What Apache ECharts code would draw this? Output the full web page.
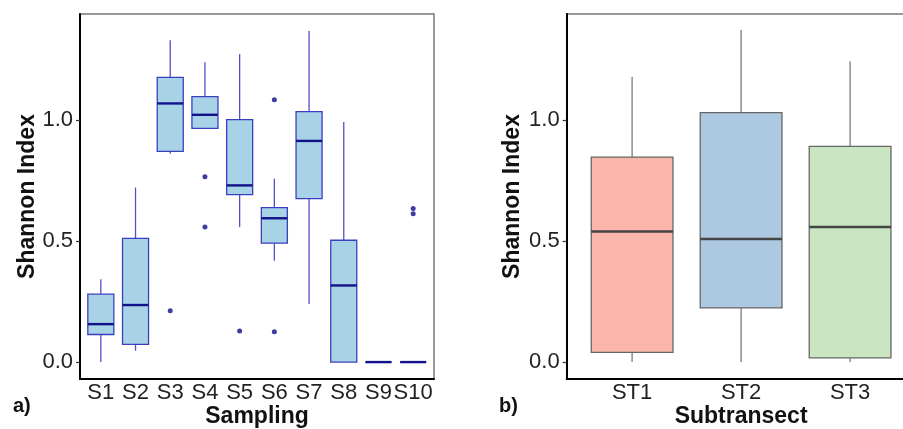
<!DOCTYPE html>
<html>
<head>
<meta charset="utf-8">
<script src="https://cdn.jsdelivr.net/npm/echarts@6/dist/echarts.min.js"></script>
<style>
  html, body { margin: 0; padding: 0; background: #fff; }
  #chart { width: 903px; height: 429px; }
</style>
</head>
<body>
<div id="chart"></div>
<script>
// panel a) sampling campaigns
const samplings = ['S1', 'S2', 'S3', 'S4', 'S5', 'S6', 'S7', 'S8', 'S9', 'S10'];
// [min, Q1, median, Q3, max]
const samplingStats = [
  [0.000, 0.114, 0.157, 0.281, 0.343],
  [0.047, 0.073, 0.236, 0.512, 0.722],
  [0.862, 0.872, 1.070, 1.178, 1.331],
  [0.967, 0.967, 1.023, 1.098, 1.240],
  [0.559, 0.693, 0.731, 1.003, 1.274],
  [0.419, 0.492, 0.595, 0.639, 0.759],
  [0.240, 0.676, 0.915, 1.036, 1.370],
  [0.000, 0.000, 0.317, 0.504, 0.993],
  [0.000, 0.000, 0.000, 0.000, 0.000],
  [0.000, 0.000, 0.000, 0.000, 0.000]
];
// [sampling index (1-based), value]
const samplingOutliers = [
  [3, 0.212], [4, 0.767], [4, 0.559], [5, 0.129],
  [6, 1.085], [6, 0.125], [10, 0.635], [10, 0.614]
];

// panel b) subtransects
const subtransects = ['ST1', 'ST2', 'ST3'];
const subtransectStats = [
  [0.000, 0.040, 0.540, 0.848, 1.180],
  [0.000, 0.224, 0.509, 1.032, 1.374],
  [0.000, 0.017, 0.559, 0.892, 1.243]
];

const yTicks = [0, 0.5, 1.0];
const font = 'Liberation Sans';

const toRows = stats => stats.map((s, i) => [i + 1].concat(s));

const boxRenderer = look => (params, api) => {
  const x = api.value(0);
  const lo = api.coord([x, api.value(1)]);
  const q1 = api.coord([x, api.value(2)]);
  const md = api.coord([x, api.value(3)]);
  const q3 = api.coord([x, api.value(4)]);
  const hi = api.coord([x, api.value(5)]);
  const w = api.size([0.75, 0])[0];
  const fill = look.fills[params.dataIndex % look.fills.length];
  return {
    type: 'group',
    children: [
      { type: 'line', shape: { x1: hi[0], y1: hi[1], x2: q3[0], y2: q3[1] },
        style: { stroke: look.whisker, lineWidth: 1.3 } },
      { type: 'line', shape: { x1: lo[0], y1: lo[1], x2: q1[0], y2: q1[1] },
        style: { stroke: look.whisker, lineWidth: 1.3 } },
      { type: 'rect', shape: { x: q3[0] - w / 2, y: q3[1], width: w, height: q1[1] - q3[1] },
        style: { fill: fill, stroke: look.border, lineWidth: 1.3 } },
      { type: 'line', shape: { x1: md[0] - w / 2, y1: md[1], x2: md[0] + w / 2, y2: md[1] },
        style: { stroke: look.median, lineWidth: 2.4 } }
    ]
  };
};

const xAxisFor = (gridIndex, names, title) => ({
  type: 'value', gridIndex: gridIndex,
  min: 0.4, max: names.length + 0.6,
  axisLine: { show: true, onZero: false, lineStyle: { color: '#000', width: 2 } },
  axisTick: { show: false },
  splitLine: { show: false },
  axisLabel: {
    customValues: names.map((n, i) => i + 1),
    formatter: v => names[Math.round(v) - 1],
    fontFamily: font, fontSize: 22, color: '#222', margin: 3
  },
  name: title, nameLocation: 'middle', nameGap: 26, nameMoveOverlap: false,
  nameTextStyle: { fontFamily: font, fontSize: 23, fontWeight: 'bold', color: '#111' }
});

const yAxisFor = (gridIndex, gap) => ({
  type: 'value', gridIndex: gridIndex,
  min: -0.07, max: 1.44,
  axisLine: { show: true, onZero: false, lineStyle: { color: '#000', width: 2 } },
  axisTick: { show: true, customValues: yTicks, length: 4, lineStyle: { color: '#333', width: 1.2 } },
  splitLine: { show: false },
  axisLabel: {
    customValues: yTicks,
    formatter: v => v.toFixed(1),
    fontFamily: font, fontSize: 22, color: '#222', margin: 7
  },
  name: 'Shannon Index', nameLocation: 'middle', nameGap: gap, nameMoveOverlap: false,
  nameTextStyle: { fontFamily: font, fontSize: 23, fontWeight: 'bold', color: '#111' }
});

const chart = echarts.init(document.getElementById('chart'));
chart.setOption({
  animation: false,
  title: [
    { text: 'a)', left: 8, top: 391, textStyle: { fontFamily: font, fontSize: 20, fontWeight: 'bold', color: '#111' } },
    { text: 'b)', left: 494, top: 391, textStyle: { fontFamily: font, fontSize: 20, fontWeight: 'bold', color: '#111' } }
  ],
  grid: [
    { left: 80, top: 14, width: 354, height: 365, show: true, borderColor: '#777', borderWidth: 1.5,
      containLabel: false, outerBoundsMode: 'none' },
    { left: 566.7, top: 14, width: 348.8, height: 365, show: true, borderColor: '#777', borderWidth: 1.5,
      containLabel: false, outerBoundsMode: 'none' }
  ],
  xAxis: [xAxisFor(0, samplings, 'Sampling'), xAxisFor(1, subtransects, 'Subtransect')],
  yAxis: [yAxisFor(0, 41), yAxisFor(1, 43)],
  series: [
    {
      type: 'custom', xAxisIndex: 0, yAxisIndex: 0,
      renderItem: boxRenderer({ fills: ['#a8d3e7'], border: '#3a3fbf', whisker: '#5050c8', median: '#12128a' }),
      encode: { x: 0, y: [1, 2, 3, 4, 5] },
      data: toRows(samplingStats)
    },
    {
      type: 'scatter', xAxisIndex: 0, yAxisIndex: 0,
      symbolSize: 5, itemStyle: { color: '#0c0c88' },
      data: samplingOutliers
    },
    {
      type: 'custom', xAxisIndex: 1, yAxisIndex: 1,
      renderItem: boxRenderer({ fills: ['#fbb6ac', '#adc9e1', '#c9e5c1'], border: '#666', whisker: '#7a7a7a', median: '#444' }),
      encode: { x: 0, y: [1, 2, 3, 4, 5] },
      data: toRows(subtransectStats)
    }
  ]
});
</script>
</body>
</html>
